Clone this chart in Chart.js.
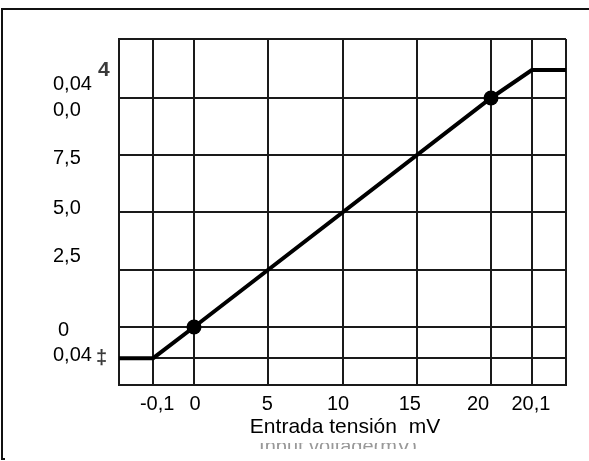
<!DOCTYPE html>
<html>
<head>
<meta charset="utf-8">
<script src="https://cdn.jsdelivr.net/npm/chart.js@4.4.0/dist/chart.umd.min.js"></script>
<style>
  html, body { margin: 0; padding: 0; background: #fff; }
  canvas { display: block; }
</style>
</head>
<body>
<canvas id="transferChart" width="589" height="461"></canvas>
<script>
// Transfer curve: input voltage (mV) -> output
const inputMv = [-0.2, -0.1, 0, 20, 20.1, 20.2];
const outputVal = [-0.04, -0.04, 0, 10, 10.04, 10.04];

// calibration points drawn as dots
const markerMv = [0, 20];
const markerOut = [0, 10];

const xTickValues = [-0.1, 0, 5, 10, 15, 20, 20.1];
const xTickLabels = ['-0,1', '0', '5', '10', '15', '20', '20,1'];

const yGridValues = [-0.04, 0, 2.5, 5, 7.5, 10];
const yTickValues = [10.04, 10, 7.5, 5, 2.5, 0, -0.04];
const yTickLabels = ['0,04', '0,0', '7,5', '5,0', '2,5', '0', '0,04'];
const yMarkValues = [10.04, -0.04];
const yMarkLabels = ['4', '\u2021'];

const xTitle = 'Entrada tensión  mV';
const xSubTitle = 'Input voltage(mV)';

// both axes are broken at the ends: the last 0.1 mV / 0.04 get stretched
function xAxisPos(v) {
    if (v < 0) return v * 27.5;
    if (v > 20) return 20 + (v - 20) * 27.5;
    return v;
}
function yAxisPos(v) {
    if (v < 0) return v * 34;
    if (v > 10) return 10 + (v - 10) * 30.5;
    return v;
}

// label nudges in pixels (the printed labels sit a bit off their lines)
const xLabelNudge = [4, 1, -1, -4.5, -7, -13, -1];
const yLabelNudge = [14.5, 12, 3.7, -4, -13, 3, -2.5];
const yLabelLeft = [53, 53, 53, 53, 53, 58, 53];

const FONT = '"Liberation Sans", Arial, sans-serif';

const textPlugin = {
    id: 'textPlugin',
    beforeDraw(chart) {
        const ctx = chart.ctx;
        ctx.save();
        ctx.fillStyle = '#fff';
        ctx.fillRect(0, 0, chart.width, chart.height);
        // outer frame (only top and left edge are visible)
        ctx.strokeStyle = '#111';
        ctx.lineWidth = 2;
        ctx.beginPath();
        ctx.moveTo(5, 459);
        ctx.lineTo(2, 459);
        ctx.lineTo(2, 9);
        ctx.lineTo(chart.width, 9);
        ctx.stroke();
        ctx.restore();
    },
    afterDraw(chart) {
        const ctx = chart.ctx;
        const xs = chart.scales.x;
        const ys = chart.scales.y;
        ctx.save();
        ctx.fillStyle = '#000';
        ctx.font = '20px ' + FONT;
        ctx.textBaseline = 'middle';

        ctx.textAlign = 'center';
        xTickLabels.forEach(function(lab, i) {
            const px = xs.getPixelForValue(xAxisPos(xTickValues[i])) + xLabelNudge[i];
            ctx.fillText(lab, px, 404);
        });

        ctx.textAlign = 'left';
        yTickLabels.forEach(function(lab, i) {
            const py = ys.getPixelForValue(yAxisPos(yTickValues[i])) + yLabelNudge[i];
            ctx.fillText(lab, yLabelLeft[i], py);
        });

        ctx.fillStyle = '#3a3a3a';
        yMarkLabels.forEach(function(lab, i) {
            const py = ys.getPixelForValue(yAxisPos(yMarkValues[i]));
            ctx.font = 'bold ' + (i === 0 ? '21px ' : '20px ') + FONT;
            ctx.fillText(lab, i === 0 ? 98 : 96, py);
        });

        ctx.fillStyle = '#000';
        ctx.font = '21px ' + FONT;
        ctx.textAlign = 'center';
        ctx.fillText(xTitle, 345, 427);

        // old english caption, mostly hidden under the new one
        ctx.beginPath();
        ctx.rect(0, 443, chart.width, 6);
        ctx.clip();
        ctx.fillStyle = '#999';
        ctx.font = '20px ' + FONT;
        ctx.textBaseline = 'alphabetic';
        ctx.fillText(xSubTitle, 338, 453);
        ctx.restore();
    }
};

const lineData = inputMv.map(function(v, i) {
    return { x: xAxisPos(v), y: yAxisPos(outputVal[i]) };
});
const markerData = markerMv.map(function(v, i) {
    return { x: xAxisPos(v), y: yAxisPos(markerOut[i]) };
});

const ctx = document.getElementById('transferChart').getContext('2d');
const transferChart = new Chart(ctx, {
    type: 'scatter',
    data: {
        datasets: [{
            data: lineData,
            showLine: true,
            borderColor: '#000',
            borderWidth: 4,
            pointRadius: 0,
            tension: 0
        }, {
            data: markerData,
            pointRadius: 7.5,
            pointBackgroundColor: '#000',
            pointBorderColor: '#000',
            pointBorderWidth: 0
        }]
    },
    options: {
        responsive: false,
        animation: false,
        layout: {
            padding: { left: 119, right: 23, top: 39, bottom: 76 }
        },
        plugins: {
            legend: { display: false },
            tooltip: { enabled: false }
        },
        scales: {
            x: {
                type: 'linear',
                min: -5.05,
                max: 25.05,
                afterBuildTicks: function(scale) {
                    const vals = [scale.min].concat(xTickValues.map(xAxisPos), [scale.max]);
                    scale.ticks = vals.map(function(v) { return { value: v }; });
                },
                ticks: { display: false },
                grid: { color: '#1a1a1a', lineWidth: 2, drawTicks: false },
                border: { color: '#1a1a1a', width: 2 }
            },
            y: {
                type: 'linear',
                min: -2.533,
                max: 12.576,
                afterBuildTicks: function(scale) {
                    const vals = [scale.min].concat(yGridValues.map(yAxisPos), [scale.max]);
                    scale.ticks = vals.map(function(v) { return { value: v }; });
                },
                ticks: { display: false },
                grid: { color: '#1a1a1a', lineWidth: 2, drawTicks: false },
                border: { color: '#1a1a1a', width: 2 }
            }
        }
    },
    plugins: [textPlugin]
});
</script>
</body>
</html>
